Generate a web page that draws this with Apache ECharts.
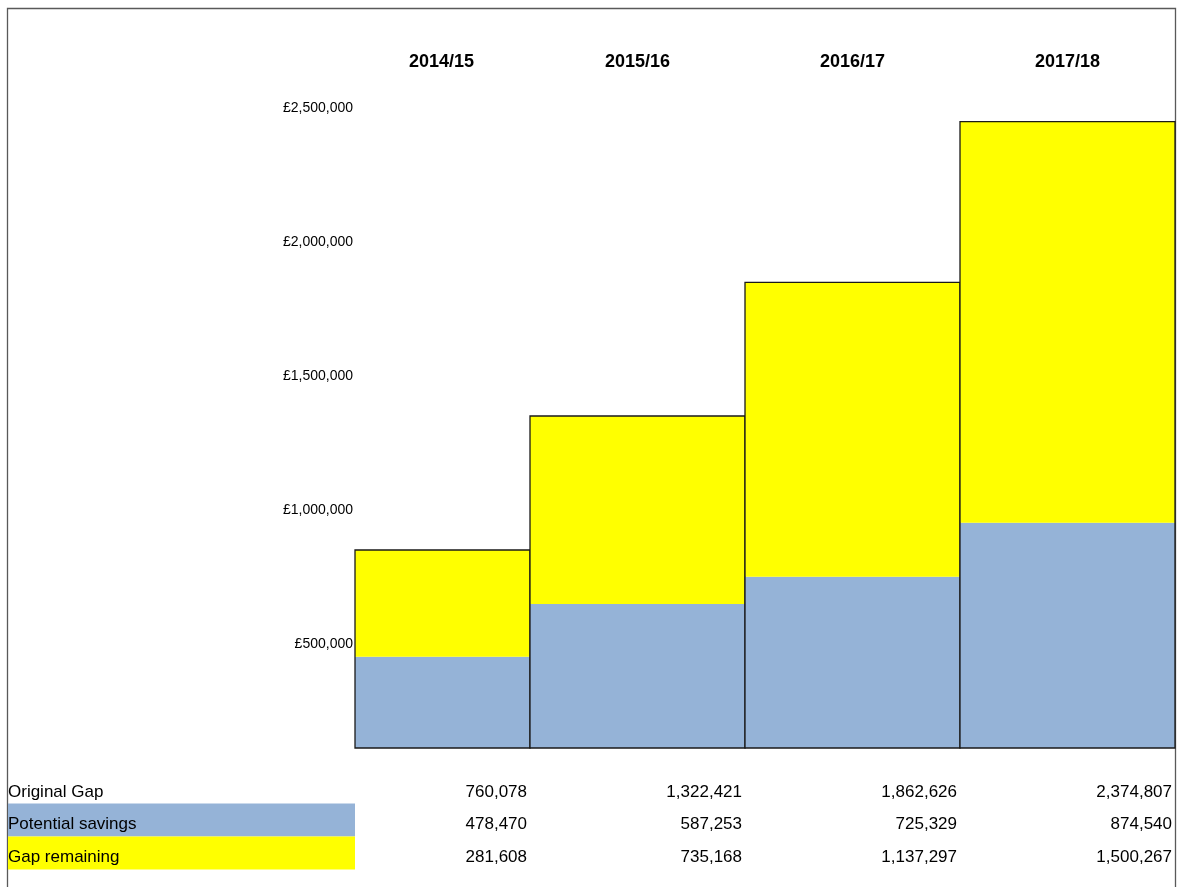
<!DOCTYPE html>
<html>
<head>
<meta charset="utf-8">
<script src="https://cdn.jsdelivr.net/npm/echarts@6/dist/echarts.min.js"></script>
<style>
  html, body { margin: 0; padding: 0; background: #ffffff; }
  #chart { width: 1186px; height: 887px; }
</style>
</head>
<body>
<div id="chart"></div>
<script>
// ---- data ----
const categories = ['2014/15', '2015/16', '2016/17', '2017/18'];
// table values (as printed)
const originalGap      = [760078, 1322421, 1862626, 2374807];
const potentialSavings = [478470, 587253, 725329, 874540];
const gapRemaining     = [281608, 735168, 1137297, 1500267];
const savingsBar = [340700, 537300, 639200, 840700];
const gapBar     = [398100, 701500, 1098500, 1496300];
// y-axis ticks
const yTicks = [0, 500000, 1000000, 1500000, 2000000, 2500000];

const rowLabels = ['Original Gap', 'Potential savings', 'Gap remaining'];
const rowValues = [originalGap, potentialSavings, gapRemaining];

// ---- styles / layout ----
const BLUE = '#95B3D7';
const YELLOW = '#FFFF00';
const FONT = '"Liberation Sans", Arial, sans-serif';
const firstColInset = 40; // first column is narrower than the others

const chart = echarts.init(document.getElementById('chart'), null, { renderer: 'canvas' });

const fmtInt = v => v.toString().replace(/\B(?=(\d{3})+(?!\d))/g, ',');

const option = {
  backgroundColor: '#ffffff',
  animation: false,
  grid: { left: 315, right: 11, top: 78, bottom: 139, containLabel: false },
  xAxis: {
    type: 'category',
    position: 'top',
    data: categories,
    axisLine: { show: false },
    axisTick: { show: false },
    splitLine: { show: false },
    axisLabel: {
      margin: 7,
      color: '#000',
      fontFamily: FONT,
      fontWeight: 'bold',
      fontSize: 18,
      formatter: (v, i) => i === 0 ? '{first|' + v + '}' : v,
      rich: {
        first: { padding: [0, 0, 0, 38], fontFamily: FONT, fontWeight: 'bold', fontSize: 18, color: '#000' }
      }
    }
  },
  yAxis: {
    type: 'value',
    min: yTicks[0],
    max: yTicks[yTicks.length - 1],
    interval: yTicks[1] - yTicks[0],
    offset: -firstColInset,
    axisLine: { show: false },
    axisTick: { show: false },
    splitLine: { show: false },
    axisLabel: {
      showMinLabel: false,
      margin: 2,
      color: '#000',
      fontFamily: FONT,
      fontSize: 14,
      lineHeight: 60,
      verticalAlign: 'middle',
      formatter: v => '\n£' + fmtInt(v)
    }
  },
  series: [{
    type: 'custom',
    clip: false,
    encode: { x: 0, y: [1, 2] },
    data: categories.map((c, i) => [i, savingsBar[i], gapBar[i]]),
    renderItem: (params, api) => {
      const idx = api.value(0);
      const sav = api.value(1);
      const gap = api.value(2);
      const base = api.coord([idx, 0]);
      const w = api.size([1, 0])[0];
      let x0 = base[0] - w / 2;
      const x1 = base[0] + w / 2;
      if (idx === 0) x0 += firstColInset;
      const ySav = api.coord([idx, sav])[1];
      const yTot = api.coord([idx, sav + gap])[1];
      return {
        type: 'group',
        children: [
          { type: 'rect', shape: { x: x0, y: ySav, width: x1 - x0, height: base[1] - ySav }, style: { fill: BLUE } },
          { type: 'rect', shape: { x: x0, y: yTot, width: x1 - x0, height: ySav - yTot }, style: { fill: YELLOW } },
          { type: 'rect', shape: { x: x0, y: yTot, width: x1 - x0, height: base[1] - yTot },
            style: { fill: 'none', stroke: '#1a1a1a', lineWidth: 1.3 } }
        ]
      };
    }
  }]
};

chart.setOption(option);

// ---- data table below the chart ----
const rowCenters = [792, 824, 857];
const rowBg = [null, BLUE, YELLOW];
const graphics = [];
// frame
graphics.push({
  type: 'polyline', silent: true,
  shape: { points: [[7.5, 887], [7.5, 8.5], [1175.5, 8.5], [1175.5, 887]] },
  style: { stroke: '#595959', lineWidth: 1.3, fill: null }
});
rowLabels.forEach((lab, r) => {
  if (rowBg[r]) {
    graphics.push({
      type: 'rect', silent: true,
      shape: { x: 8, y: rowCenters[r] - 20.5, width: 347, height: 33 },
      style: { fill: rowBg[r] }
    });
  }
  graphics.push({
    type: 'text', silent: true,
    x: 8, y: rowCenters[r],
    style: { text: lab, fill: '#000', font: '17px ' + FONT, textAlign: 'left', textVerticalAlign: 'middle' }
  });
  rowValues[r].forEach((v, i) => {
    const cx = chart.convertToPixel({ xAxisIndex: 0 }, categories[i]);
    const half = 215 / 2;
    graphics.push({
      type: 'text', silent: true,
      x: cx + half - 3, y: rowCenters[r],
      style: { text: fmtInt(v), fill: '#000', font: '17px ' + FONT, textAlign: 'right', textVerticalAlign: 'middle' }
    });
  });
});
chart.setOption({ graphic: { elements: graphics } });
</script>
</body>
</html>
